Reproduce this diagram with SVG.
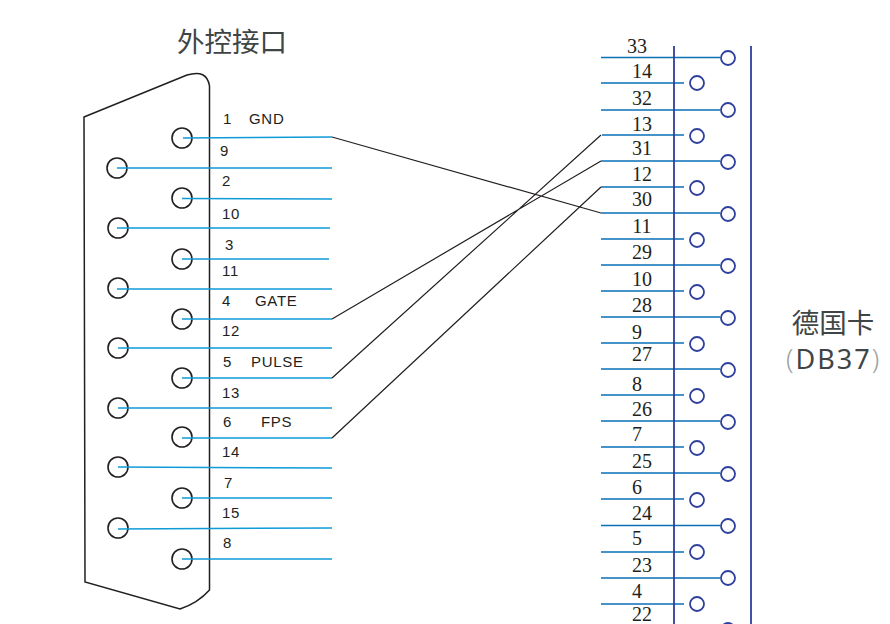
<svg xmlns="http://www.w3.org/2000/svg" width="890" height="624" viewBox="0 0 890 624">
<style>
.c{fill:#fff;stroke:#231f20;stroke-width:1.6}
.b{fill:none;stroke:#231f20;stroke-width:1.5}
.w{stroke:#0f9bd7;stroke-width:1.5;fill:none}
.k{stroke:#231f20;stroke-width:1.2;fill:none}
.r{stroke:#0a70b8;stroke-width:1.7;fill:none}
.v{stroke:#2e3f9c;stroke-width:1.8;fill:none}
.o{fill:#fff;stroke:#2e3f9c;stroke-width:1.8}
.s{font:15px "Liberation Sans",Arial,sans-serif;fill:#231f20;letter-spacing:.7px}
.n{font:20px "Liberation Serif","Times New Roman",serif;fill:#231f20;text-anchor:middle}
.t{font:27.500px "Noto Sans CJK SC","Noto Sans",sans-serif;fill:#3f4545;text-anchor:middle}
</style>
<text class="t" x="232" y="52">外控接口</text>
<g id="db15">
<path class="b" d="M84 117L187 75Q207 69 209.500 86V590Q198 603 180 609L85 582Z"/>
<circle class="c" cx="182" cy="138" r="10"/><circle class="c" cx="117" cy="168" r="10"/>
<circle class="c" cx="182" cy="198" r="10"/><circle class="c" cx="118" cy="228" r="10"/>
<circle class="c" cx="182" cy="259" r="10"/><circle class="c" cx="118" cy="288" r="10"/>
<circle class="c" cx="182" cy="319" r="10"/><circle class="c" cx="118" cy="348" r="10"/>
<circle class="c" cx="182" cy="378" r="10"/><circle class="c" cx="118" cy="408" r="10"/>
<circle class="c" cx="182" cy="437" r="10"/><circle class="c" cx="118" cy="467" r="10"/>
<circle class="c" cx="182" cy="498" r="10"/><circle class="c" cx="118" cy="528" r="10"/>
<circle class="c" cx="182" cy="559" r="10"/>
<text class="s" x="223" y="124">1</text><text class="s" x="249" y="124">GND</text>
<text class="s" x="220" y="156">9</text><text class="s" x="222" y="186">2</text>
<text class="s" x="222" y="219">10</text><text class="s" x="225" y="250">3</text>
<text class="s" x="222" y="276">11</text><text class="s" x="222" y="306">4</text>
<text class="s" x="255" y="306">GATE</text><text class="s" x="222" y="336">12</text>
<text class="s" x="223" y="367">5</text><text class="s" x="251" y="367">PULSE</text>
<text class="s" x="222" y="398">13</text><text class="s" x="223" y="427">6</text>
<text class="s" x="261" y="427">FPS</text><text class="s" x="222" y="457">14</text>
<text class="s" x="224" y="488">7</text><text class="s" x="222" y="518">15</text>
<text class="s" x="223" y="548">8</text>
</g>
<g id="connectors">
<path class="w" d="M183 138L332 137M117 168H332M182 198.500L332 199M117 228H330M182 259H329M117 289H332M182 319H332M118 348H332M182 378H332M118 408H332M182 438H332M118 467L332 468M182 498H332M118 529L332 528M182 559H332"/>
<path class="k" d="M332 137L601 213M332 319L601 161M332 378L601 135M332 438L601 187"/>
<path class="r" d="M601 57.500H720M601 83H684M601 110H720M602 135H684M601 161H720M601 187H684M601 213H720M601 239H684M601 265H720M601 291H684M601 317H720M601 343H684M601 369H720M601 395H684M601 421H720M601 447H684M601 473H720M601 499H684M601 525.500H720M601 552H684M601 578H720M601 604H684"/>
</g>
<g id="db37">
<path class="v" d="M674 46V624M751 46V624"/>
<g id="pins">
<circle class="o" cx="728" cy="58" r="7"/><circle class="o" cx="697" cy="83" r="7"/>
<circle class="o" cx="728" cy="110" r="7"/><circle class="o" cx="697" cy="136" r="7"/>
<circle class="o" cx="728" cy="162" r="7"/><circle class="o" cx="697" cy="188" r="7"/>
<circle class="o" cx="728" cy="214" r="7"/><circle class="o" cx="697" cy="240" r="7"/>
<circle class="o" cx="728" cy="266" r="7"/><circle class="o" cx="697" cy="292" r="7"/>
<circle class="o" cx="728" cy="318" r="7"/><circle class="o" cx="697" cy="344" r="7"/>
<circle class="o" cx="728" cy="370" r="7"/><circle class="o" cx="697" cy="396" r="7"/>
<circle class="o" cx="728" cy="422" r="7"/><circle class="o" cx="697" cy="448" r="7"/>
<circle class="o" cx="728" cy="474" r="7"/><circle class="o" cx="697" cy="500" r="7"/>
<circle class="o" cx="728" cy="526" r="7"/><circle class="o" cx="697" cy="552" r="7"/>
<circle class="o" cx="728" cy="578" r="7"/><circle class="o" cx="697" cy="604" r="7"/>
<circle class="o" cx="728" cy="630" r="7"/>
</g>
<text class="n" x="637" y="53">33</text><text class="n" x="642" y="78">14</text>
<text class="n" x="642" y="105">32</text><text class="n" x="642" y="131">13</text>
<text class="n" x="642" y="155">31</text><text class="n" x="642" y="181">12</text>
<text class="n" x="642" y="206">30</text><text class="n" x="642" y="233">11</text>
<text class="n" x="642" y="259">29</text><text class="n" x="642" y="286">10</text>
<text class="n" x="642" y="312">28</text><text class="n" x="637" y="339">9</text>
<text class="n" x="642" y="361">27</text><text class="n" x="637" y="391">8</text>
<text class="n" x="642" y="416">26</text><text class="n" x="637" y="441">7</text>
<text class="n" x="642" y="468">25</text><text class="n" x="637" y="494">6</text>
<text class="n" x="642" y="520">24</text><text class="n" x="637" y="545">5</text>
<text class="n" x="642" y="572">23</text><text class="n" x="637" y="598">4</text>
<text class="n" x="642" y="621">22</text>
</g>
<g id="label">
<text class="t" x="833" y="333">德国卡</text>
<text x="786" y="369" style="font:27px 'Noto Sans','Liberation Sans',sans-serif;fill:#3f4545;letter-spacing:2px"><tspan fill="#a0a4a4" style="font-weight:300">(</tspan>DB37<tspan fill="#a0a4a4" style="font-weight:300">)</tspan></text>
</g>
</svg>
